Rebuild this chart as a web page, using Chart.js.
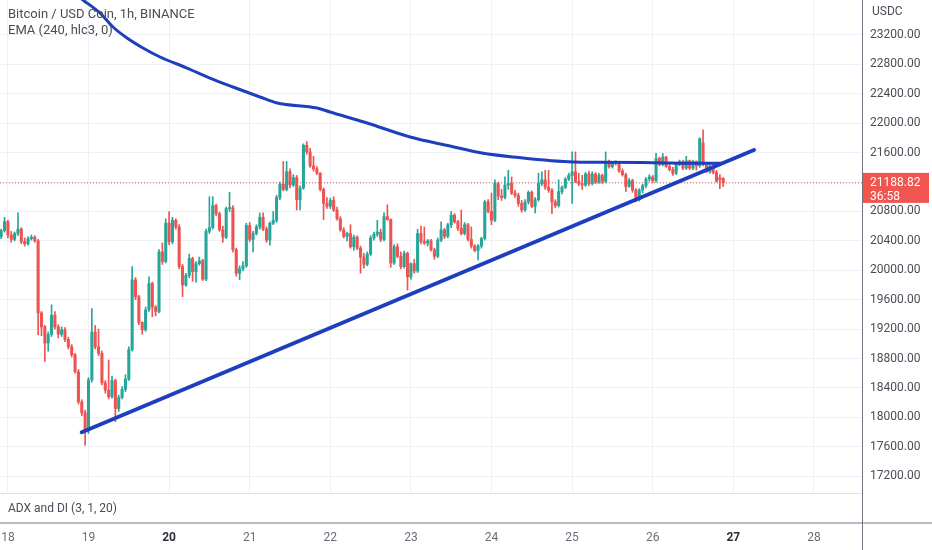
<!DOCTYPE html>
<html><head><meta charset="utf-8">
<script src="https://cdn.jsdelivr.net/npm/chart.js@4.4.0/dist/chart.umd.min.js"></script>
<style>html,body{margin:0;padding:0;background:#fff;}canvas{display:block;}</style>
</head><body>
<canvas id="c" width="932" height="550"></canvas>
<script>
// ---- DATA (hourly candles, first candle = day 18, hour -2) ----
const startHour = -2;
const opens = [
20460,20540,20660,20480,20420,20500,20560,20390,20360,20430,20450,20400,
19420,19230,19010,19130,19390,19230,19130,19190,19060,18960,18850,18620,
18210,18060,17830,18510,19160,18960,18870,18470,18370,18280,18500,18120,
18270,18380,18520,18920,19870,19640,19290,19190,19460,19820,19500,19440,
20250,20120,20640,20390,20680,20590,20050,19800,19930,20160,19980,20090,
20130,19880,20530,20580,20880,20770,20550,20450,20840,20850,20280,19960,
20020,20060,20610,20420,20500,20590,20720,20560,20410,20640,20680,20990,
21170,21100,21340,21160,21260,20960,21120,21700,21610,21420,21380,21320,
21100,20910,20870,20950,20820,20700,20550,20460,20500,20320,20450,20300,
20180,20080,20220,20440,20490,20520,20420,20730,20690,20100,20320,20190,
20050,20230,19910,20090,19990,20500,20390,20370,20400,20280,20190,20410,
20550,20460,20620,20750,20660,20570,20500,20620,20420,20330,20270,20330,
20430,20930,20800,20680,21180,21010,20990,21160,21180,21050,21020,20910,
20820,20930,21060,20870,20960,21180,21230,21130,21090,20930,20880,21070,
21130,21240,21290,21340,21210,21180,21160,21310,21180,21310,21200,21290,
21210,21460,21410,21460,21470,21350,21300,21140,21220,21090,20960,21090,
21150,21240,21270,21220,21520,21440,21540,21410,21370,21320,21440,21480,
21390,21490,21390,21480,21420,21730,21440,21340,21420,21330,21260,21250];
const highs = [
20560,20720,20680,20530,20520,20780,20580,20440,20460,20480,20470,20420,
19440,19250,19160,19530,19440,19260,19230,19220,19090,18990,18870,18650,
18240,18100,18540,19480,19250,19200,18900,18500,18780,18560,18520,18300,
18420,18580,18960,20050,19900,19660,19300,19500,19910,19840,19520,20280,
20370,20700,20800,20720,20700,20620,20080,19960,20220,20180,20120,20180,
20150,20560,21000,21000,20900,20790,20600,20860,21060,20880,20300,20060,
20120,20640,20650,20530,20620,20780,20780,20590,20660,20800,21020,21200,
21480,21480,21380,21300,21290,21150,21720,21750,21660,21550,21410,21330,
21120,20990,20980,21000,20860,20730,20580,20520,20620,20480,20470,20330,
20230,20250,20470,20520,20680,20560,20780,20890,20700,20350,20360,20250,
20260,20250,20100,20150,20560,20600,20590,20420,20420,20300,20440,20660,
20570,20640,20800,20770,20680,20820,20650,20640,20590,20350,20350,20450,
20950,20960,21050,21230,21200,21100,21270,21360,21270,21090,21050,20950,
20960,21080,21080,20990,21320,21340,21360,21360,21110,20960,21230,21150,
21260,21320,21610,21610,21320,21290,21330,21350,21340,21330,21320,21310,
21610,21500,21480,21490,21480,21380,21320,21250,21240,21110,21110,21170,
21260,21300,21290,21590,21540,21590,21550,21440,21400,21460,21500,21500,
21550,21500,21500,21490,21800,21910,21470,21440,21440,21360,21300,21260];
const lows = [
20430,20520,20440,20380,20400,20470,20360,20330,20340,20410,20380,19120,
19110,18760,18900,19100,19200,19080,19100,19030,18930,18820,18600,18180,
18020,17620,17780,18480,18930,18840,18440,18330,18250,18260,17940,18080,
18250,18350,18500,18900,19600,19260,19130,19170,19440,19370,19380,19420,
20080,20100,20350,20360,20560,20020,19640,19780,19900,19850,19840,20070,
19860,19860,20500,20560,20740,20530,20380,20430,20800,20250,19920,19870,
19990,20040,20390,20250,20480,20560,20540,20380,20340,20620,20650,20960,
21080,21080,21120,21140,20820,20820,21100,21580,21400,21350,21300,21080,
20690,20840,20840,20800,20680,20530,20440,20400,20300,20270,20280,19960,
20030,20060,20200,20410,20460,20390,20400,20680,20040,20080,20170,20020,
20030,19730,19880,19960,19970,20360,20350,20330,20260,20150,20170,20390,
20430,20440,20580,20640,20540,20480,20480,20400,20300,20250,20140,20300,
20410,20780,20620,20660,20960,20950,20970,21100,21030,20990,20870,20790,
20800,20900,20850,20780,20940,21150,21100,21060,20770,20850,20860,21040,
21110,21220,20910,21190,21150,21100,21140,21150,21160,21180,21180,21180,
21190,21390,21390,21430,21330,21280,21070,21130,21060,20930,20940,21050,
21120,21210,21190,21200,21420,21420,21400,21350,21290,21300,21420,21370,
21370,21370,21370,21360,21400,21420,21330,21320,21310,21200,21110,21140];
const closes = [
20540,20660,20480,20420,20500,20560,20390,20360,20430,20450,20400,19420,
19230,19010,19130,19390,19230,19130,19190,19060,18960,18850,18620,18210,
18060,17830,18510,19160,18960,18870,18470,18370,18280,18500,18120,18270,
18380,18520,18920,19870,19640,19290,19190,19460,19820,19500,19440,20250,
20120,20640,20390,20680,20590,20050,19800,19930,20160,19980,20090,20130,
19880,20530,20580,20880,20770,20550,20450,20840,20850,20280,19960,20020,
20060,20610,20420,20500,20590,20720,20560,20410,20640,20680,20990,21170,
21100,21340,21160,21260,20960,21120,21700,21610,21420,21380,21320,21100,
20910,20870,20950,20820,20700,20550,20460,20500,20320,20450,20300,20180,
20080,20220,20440,20490,20520,20420,20730,20690,20100,20320,20190,20050,
20230,19910,20090,19990,20500,20390,20370,20400,20280,20190,20410,20550,
20460,20620,20750,20660,20570,20500,20620,20420,20330,20270,20330,20430,
20930,20800,20680,21180,21010,20990,21160,21180,21050,21020,20910,20820,
20930,21060,20870,20960,21180,21230,21130,21090,20930,20880,21070,21130,
21240,21290,21340,21210,21180,21160,21310,21180,21310,21200,21290,21210,
21460,21410,21460,21470,21350,21300,21140,21220,21090,20960,21090,21150,
21240,21270,21220,21520,21440,21540,21410,21370,21320,21440,21480,21390,
21490,21390,21480,21420,21790,21440,21340,21420,21330,21210,21230,21188.82];

// EMA (240, hlc3): day position / value
const emaDays   = [18.646,18.932,19.143,19.304,19.478,19.676,19.887,20.222,20.507,20.793,21.128,21.340,21.836,21.997,22.456,22.989,23.485,23.882,24.267,25.011,25.346,26.004,26.587,26.873];
const emaValues = [23921,23676,23499,23309,23159,23023,22901,22751,22615,22493,22357,22275,22207,22153,22003,21813,21690,21595,21541,21473,21470,21463,21455,21455];

// Hand-drawn trend line (two anchors)
const trendDays   = [18.916, 27.257];
const trendValues = [17797, 21636];

const lastPrice = 21188.82;
const countdown = '36:58';
const xTickDays = [18,19,20,21,22,23,24,25,26,27,28];
const boldDays = [20,27];
const yTickValues = [17200,17600,18000,18400,18800,19200,19600,20000,20400,20800,21200,21600,22000,22400,22800,23200];
const titleLines = ['Bitcoin / USD Coin, 1h, BINANCE', 'EMA (240, hlc3, 0)'];
const paneLabel = 'ADX and DI (3, 1, 20)';
const currency = 'USDC';

// ---- build datasets ----
const UP = '#26a69a', DOWN = '#ef5350', BLUE = '#1e3fbd';
const candleDays = opens.map((_, i) => 18 + (startHour + i) / 24);
const candleColors = closes.map((c, i) => c >= opens[i] ? UP : DOWN);
const bodies = opens.map((o, i) => ({x: candleDays[i], y: [Math.min(o, closes[i]), Math.max(o, closes[i])]}));
const wicks = lows.map((l, i) => ({x: candleDays[i], y: [l, highs[i]]}));
const emaPts = emaDays.map((d, i) => ({x: d, y: emaValues[i]}));
const trendPts = trendDays.map((d, i) => ({x: d, y: trendValues[i]}));

const X_MIN = 17.902, X_MAX = 28.597, Y_MIN = 16563, Y_MAX = 23676;
const PANE_TOP = 493;
const FONT = 'Roboto, "Open Sans", sans-serif';
const isBold = ctx => !!(ctx && ctx.tick && boldDays.includes(ctx.tick.value));

const decor = {
  id: 'decor',
  beforeDraw(chart) {
    const ctx = chart.ctx;
    ctx.save(); ctx.fillStyle = '#fff'; ctx.fillRect(0, 0, chart.width, chart.height); ctx.restore();
  },
  afterDatasetsDraw(chart) {
    const {ctx, chartArea: a} = chart;
    ctx.save();
    ctx.fillStyle = '#fff';
    ctx.fillRect(a.left, PANE_TOP, a.right - a.left, a.bottom - PANE_TOP);
    ctx.strokeStyle = '#dfe1e8'; ctx.lineWidth = 1;
    ctx.beginPath(); ctx.moveTo(a.left, PANE_TOP + 0.5); ctx.lineTo(a.right, PANE_TOP + 0.5); ctx.stroke();
    ctx.strokeStyle = '#b8bbc4'; ctx.lineWidth = 2;
    ctx.beginPath(); ctx.moveTo(a.left, a.bottom); ctx.lineTo(chart.width, a.bottom); ctx.stroke();
    ctx.fillStyle = '#4a4d57'; ctx.textBaseline = 'middle'; ctx.textAlign = 'left';
    ctx.font = '12px ' + FONT;
    ctx.fillText(paneLabel, 8, 509);
    ctx.font = '13px ' + FONT;
    ctx.fillText(titleLines[0], 8, 15);
    ctx.fillText(titleLines[1], 8, 31);
    ctx.restore();
  },
  afterDraw(chart) {
    const {ctx, chartArea: a, scales: {y}} = chart;
    ctx.save();
    ctx.strokeStyle = '#70737d'; ctx.lineWidth = 1;
    ctx.beginPath(); ctx.moveTo(a.right + 0.5, 0); ctx.lineTo(a.right + 0.5, chart.height); ctx.stroke();
    ctx.fillStyle = '#4a4d57'; ctx.font = '12px ' + FONT; ctx.textBaseline = 'middle'; ctx.textAlign = 'left';
    ctx.fillText(currency, a.right + 10, 12);
    const py = y.getPixelForValue(lastPrice);
    ctx.fillStyle = '#f0554f';
    ctx.fillRect(a.right + 1, py - 10, 66, 30);
    ctx.fillStyle = '#ffffff';
    ctx.fillText(lastPrice.toFixed(2), a.right + 8, py);
    ctx.fillText(countdown, a.right + 8, py + 14);
    ctx.restore();
  }
};

new Chart(document.getElementById('c'), {
  type: 'bar',
  data: {
    datasets: [
      {type: 'line', data: trendPts, borderColor: BLUE, borderWidth: 4, pointRadius: 0, borderCapStyle: 'round'},
      {type: 'line', data: emaPts, borderColor: BLUE, borderWidth: 3, pointRadius: 0, cubicInterpolationMode: 'monotone'},
      {type: 'bar', data: bodies, backgroundColor: candleColors, barThickness: 2.4, grouped: false, minBarLength: 1, borderWidth: 0},
      {type: 'bar', data: wicks, backgroundColor: candleColors, barThickness: 1, grouped: false, borderWidth: 0},
      {type: 'line', data: [{x: X_MIN, y: lastPrice}, {x: X_MAX, y: lastPrice}], borderColor: '#ef5350', borderWidth: 1, borderDash: [1, 2], pointRadius: 0}
    ]
  },
  options: {
    responsive: false,
    animation: false,
    layout: {padding: 0},
    plugins: {legend: {display: false}, tooltip: {enabled: false}, title: {display: false}},
    scales: {
      x: {
        type: 'linear', min: X_MIN, max: X_MAX, offset: false,
        afterBuildTicks: s => { s.ticks = xTickDays.map(v => ({value: v})); },
        afterFit: s => { s.height = 27; s.paddingLeft = 0; s.paddingRight = 0; },
        grid: {color: '#eef0f5', drawTicks: false, offset: false},
        border: {display: false},
        ticks: {
          padding: 8, autoSkip: false, maxRotation: 0,
          callback: v => String(v),
          color: ctx => isBold(ctx) ? '#2a2e39' : '#6a6d78',
          font: ctx => ({family: FONT, size: 12, weight: isBold(ctx) ? 'bold' : 'normal'})
        }
      },
      y: {
        position: 'right', min: Y_MIN, max: Y_MAX,
        afterBuildTicks: s => { s.ticks = yTickValues.map(v => ({value: v})); },
        afterFit: s => { s.width = 70; s.paddingTop = 0; s.paddingBottom = 0; },
        grid: {color: '#eef0f5', drawTicks: false},
        border: {display: false},
        ticks: {padding: 8, autoSkip: false, color: '#4a4d57', font: {family: FONT, size: 12}, callback: v => Number(v).toFixed(2)}
      }
    }
  },
  plugins: [decor]
});
</script>
</body></html>
